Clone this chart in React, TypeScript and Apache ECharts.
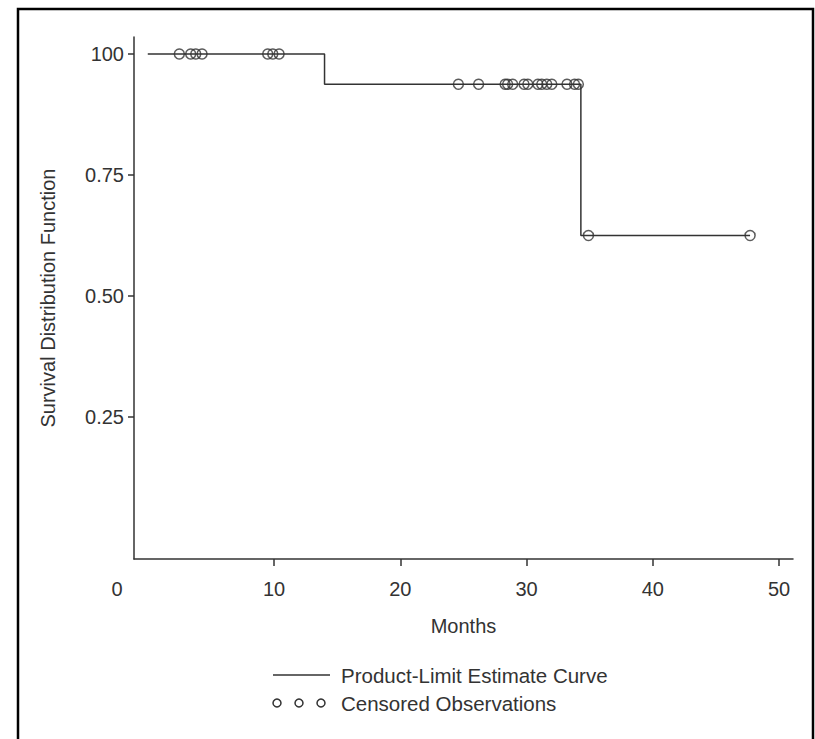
import React, { useEffect, useRef } from "react";
import * as echarts from "echarts";

// Product-limit (Kaplan-Meier) step curve
const stepTimes = [0, 14.0, 34.3, 47.7];
const stepSurvival = [1.0, 0.9375, 0.625, 0.625];

// Censored observations (months) grouped by survival level
const censoredAt100 = [2.5, 3.4, 3.8, 4.3, 9.5, 9.9, 10.4];
const censoredAt9375 = [24.6, 26.2, 28.3, 28.5, 28.9, 29.8, 30.1, 30.9, 31.2, 31.6, 32.0, 33.2, 33.8, 34.1];
const censoredAt625 = [34.9, 47.7];

const xTicks = [10, 20, 30, 40, 50];
const yTicks = [0.25, 0.5, 0.75, 1.0];

const FONT = "Liberation Sans, Arial, Helvetica, sans-serif";
const INK = "#333333";

export default function App() {
  const ref = useRef<HTMLDivElement>(null);

  useEffect(() => {
    if (!ref.current) return;
    const chart = echarts.init(ref.current, undefined, { renderer: "svg" });

    const censored = [
      ...censoredAt100.map((t) => [t, 1.0]),
      ...censoredAt9375.map((t) => [t, 0.9375]),
      ...censoredAt625.map((t) => [t, 0.625]),
    ];

    chart.setOption({
      animation: false,
      backgroundColor: "#ffffff",
      grid: { left: 134, right: 22, top: 37, bottom: 180, containLabel: false },
      xAxis: {
        type: "value",
        min: -1.09,
        max: 51.1,
        name: "Months",
        nameLocation: "middle",
        nameGap: 57,
        nameTextStyle: { fontFamily: FONT, fontSize: 20, color: INK },
        axisLine: { show: true, onZero: false, lineStyle: { color: INK, width: 1.5 } },
        axisTick: { show: true, length: 7, customValues: xTicks, lineStyle: { color: INK, width: 1.5 } },
        axisLabel: { customValues: xTicks, margin: 20, fontFamily: FONT, fontSize: 20, color: INK },
        splitLine: { show: false },
      },
      yAxis: {
        type: "value",
        min: -0.043,
        max: 1.035,
        name: "Survival Distribution Function",
        nameLocation: "middle",
        nameGap: 76,
        nameTextStyle: { fontFamily: FONT, fontSize: 20, color: INK },
        axisLine: { show: true, onZero: false, lineStyle: { color: INK, width: 1.5 } },
        axisTick: { show: true, length: 6, customValues: yTicks, lineStyle: { color: INK, width: 1.5 } },
        axisLabel: {
          customValues: yTicks,
          margin: 10,
          fontFamily: FONT,
          fontSize: 20,
          color: INK,
          formatter: (v: number) => (Math.abs(v - 1) < 1e-9 ? "100" : v.toFixed(2)),
        },
        splitLine: { show: false },
      },
      series: [
        {
          name: "Product-Limit Estimate Curve",
          type: "line",
          step: "end",
          data: stepTimes.map((t, i) => [t, stepSurvival[i]]),
          showSymbol: false,
          symbol: "none",
          lineStyle: { color: INK, width: 1.5 },
          z: 2,
        },
        {
          name: "Censored Observations",
          type: "scatter",
          data: censored,
          symbol: "circle",
          symbolSize: 10,
          itemStyle: { color: "rgba(255,255,255,0)", borderColor: INK, borderWidth: 1.5 },
          z: 3,
        },
      ],
      graphic: [
        {
          type: "rect",
          shape: { x: 18, y: 9, width: 795, height: 800 },
          style: { fill: "none", stroke: "#000000", lineWidth: 2.5 },
          silent: true,
        },
        {
          type: "text",
          x: 117,
          y: 589,
          style: { text: "0", fontFamily: FONT, fontSize: 20, fill: INK, align: "center", verticalAlign: "middle" },
        },
        {
          type: "line",
          shape: { x1: 273, y1: 675, x2: 330, y2: 675 },
          style: { stroke: INK, lineWidth: 1.5 },
        },
        {
          type: "text",
          x: 341,
          y: 675,
          style: { text: "Product-Limit Estimate Curve", fontFamily: FONT, fontSize: 20.5, fill: INK, align: "left", verticalAlign: "middle" },
        },
        { type: "circle", shape: { cx: 277, cy: 703, r: 4 }, style: { fill: "none", stroke: INK, lineWidth: 1.5 } },
        { type: "circle", shape: { cx: 299, cy: 703, r: 4 }, style: { fill: "none", stroke: INK, lineWidth: 1.5 } },
        { type: "circle", shape: { cx: 321, cy: 703, r: 4 }, style: { fill: "none", stroke: INK, lineWidth: 1.5 } },
        {
          type: "text",
          x: 341,
          y: 703,
          style: { text: "Censored Observations", fontFamily: FONT, fontSize: 20.5, fill: INK, align: "left", verticalAlign: "middle" },
        },
      ],
    });

    return () => chart.dispose();
  }, []);

  return (
    <div
      ref={ref}
      style={{ position: "absolute", left: 0, top: 0, width: 815, height: 739, background: "#fff" }}
    />
  );
}
